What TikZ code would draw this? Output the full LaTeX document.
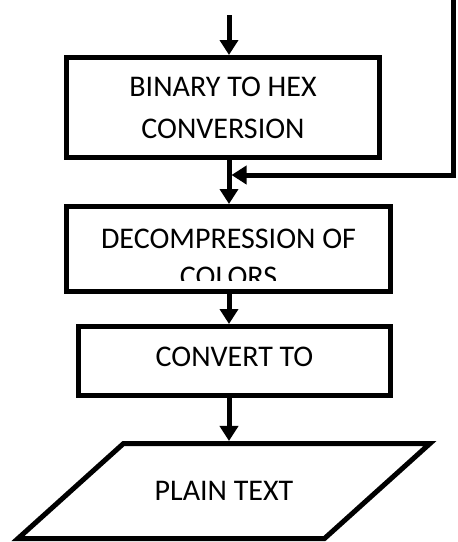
\documentclass[tikz,border=0pt]{standalone}
\usepackage{fontspec}
\setmainfont{Carlito}
\usetikzlibrary{arrows.meta,shapes.geometric}
\tikzset{
  stepbox/.style={draw,line width=5pt,inner sep=0pt,align=center,
    font=\fontsize{30}{42}\selectfont},
  flow/.style={line width=5pt,-{Triangle[width=18pt,length=15pt]}}
}

\begin{document}
\begin{tikzpicture}[x=1pt,y=-1pt]
\useasboundingbox (0,0) rectangle (458,542);

\node [stepbox,minimum width=313pt,minimum height=100pt] (hex) at (223,107.5)
{BINARY TO HEX\\CONVERSION};
\node [stepbox,minimum width=324pt,minimum height=85pt] (decomp) at (228.5,249) {};
\begin{scope}
\clip (64,204) rectangle (393,280); % text runs out of the box
\node [align=center,font=\fontsize{30}{38}\selectfont] (decomptext) at (228.5,257.5)
{DECOMPRESSION OF\\COLORS};
\end{scope}
\node [stepbox,minimum width=312pt,minimum height=69pt,text depth=8pt] (conv) at (234.5,361)
{CONVERT TO};
\node [stepbox,trapezium,trapezium left angle=42,trapezium right angle=138,
  trapezium stretches body,text height=19pt,text depth=0pt,inner ysep=38pt,
  minimum width=412pt] (plain) at (224,491)
{PLAIN TEXT};

\coordinate (in) at (229,15);
\coordinate (feed) at (453.5,0);
\coordinate (join) at (231.5,175);

\draw [flow] (in) -- (in |- hex.north);
\draw [flow] (in |- hex.south) -- (in |- decomp.north);
\draw [flow] (feed) |- (join);
\draw [flow] (in |- decomp.south) -- (in |- conv.north);
\draw [flow] (in |- conv.south) -- (in |- plain.north);
\end{tikzpicture}
\end{document}
